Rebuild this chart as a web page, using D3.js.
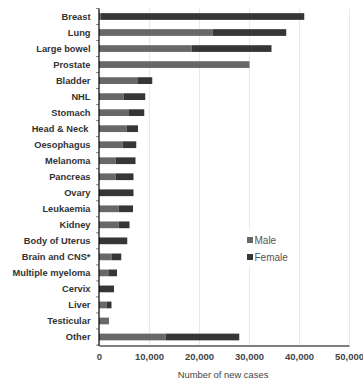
<!DOCTYPE html>
<html lang="en">
<head>
  <meta charset="utf-8">
  <title>New cancer cases by sex</title>
  <style>
    body {
      margin: 0;
      background: #fff;
    }

    text {
      font-family: "Liberation Sans", Arial, sans-serif;
    }

    .cat text {
      font-size: 9.3px;
      font-weight: bold;
      fill: #333;
    }

    .xlab {
      font-size: 9.5px;
      font-weight: bold;
      fill: #444;
    }

    .grid line {
      stroke: #e9e9e9;
      stroke-width: 1;
    }

    .legend text {
      font-size: 10px;
      fill: #555;
    }
  </style>
</head>
<body>

  <svg width="363" height="381"></svg>
  <script src="https://cdn.jsdelivr.net/npm/d3@7"></script>
  <script>

  // data
  var categories = ["Breast", "Lung", "Large bowel", "Prostate", "Bladder", "NHL",
    "Stomach", "Head & Neck", "Oesophagus", "Melanoma", "Pancreas", "Ovary",
    "Leukaemia", "Kidney", "Body of Uterus", "Brain and CNS*", "Multiple myeloma",
    "Cervix", "Liver", "Testicular", "Other"];

  var male = [300, 22700, 18500, 30100, 7800, 4900, 6000, 5500, 4700, 3300, 3300, 0,
    3900, 3900, 0, 2500, 2000, 0, 1500, 2000, 13300];

  var female = [40750, 14750, 16000, 0, 2850, 4350, 3050, 2300, 2750, 4000, 3600, 6900,
    2900, 2200, 5650, 1950, 1600, 3000, 1000, 0, 14750];

  var xTicks = [0, 10000, 20000, 30000, 40000, 50000];

  var seriesNames = ["Male", "Female"];
  var seriesColors = ["#686868", "#363636"];

  var svg = d3.select("svg");

  var x = d3.scaleLinear()
      .domain([0, 50000])
      .range([99, 349]);

  var y = d3.scaleBand()
      .domain(categories)
      .range([8.5, 345]);

  var fmt = d3.format(",");

  // gridlines
  svg.append("g")
      .attr("class", "grid")
    .selectAll("line")
    .data(xTicks.slice(1))
    .enter().append("line")
      .attr("x1", function(d) { return x(d) + 0.5; })
      .attr("x2", function(d) { return x(d) + 0.5; })
      .attr("y1", y.range()[0])
      .attr("y2", y.range()[1]);

  // stacked bars
  var rows = categories.map(function(c, i) {
    return { cat: c, m: male[i], f: female[i] };
  });

  var barH = y.bandwidth() * 0.42;

  var bars = svg.append("g").attr("class", "bars");

  bars.selectAll("rect.male")
    .data(rows)
    .enter().append("rect")
      .attr("class", "male")
      .attr("x", x(0))
      .attr("y", function(d) { return y(d.cat) + (y.bandwidth() - barH) / 2; })
      .attr("width", function(d) { return x(d.m) - x(0); })
      .attr("height", barH)
      .attr("fill", seriesColors[0]);

  bars.selectAll("rect.female")
    .data(rows)
    .enter().append("rect")
      .attr("class", "female")
      .attr("x", function(d) { return x(d.m); })
      .attr("y", function(d) { return y(d.cat) + (y.bandwidth() - barH) / 2; })
      .attr("width", function(d) { return x(d.m + d.f) - x(d.m); })
      .attr("height", barH)
      .attr("fill", seriesColors[1]);

  // y axis: line, ticks at band edges, labels
  var yAxis = svg.append("g").attr("class", "cat");

  var edges = categories.map(function(c) { return y(c); }).concat([y.range()[1]]);

  yAxis.selectAll("line.tk")
    .data(edges)
    .enter().append("line")
      .attr("class", "tk")
      .attr("x1", x(0) - 3)
      .attr("x2", x(0))
      .attr("y1", function(d) { return d; })
      .attr("y2", function(d) { return d; })
      .attr("stroke", "#888");

  yAxis.selectAll("text")
    .data(categories)
    .enter().append("text")
      .attr("x", function(d) { return x(0) - (d == "Head & Neck" ? 10.5 : 8.5); })
      .attr("y", function(d) { return y(d) + y.bandwidth() / 2; })
      .attr("dy", "0.35em")
      .attr("text-anchor", "end")
      .text(function(d) { return d; });

  yAxis.append("line")
      .attr("x1", x(0))
      .attr("x2", x(0))
      .attr("y1", y.range()[0])
      .attr("y2", y.range()[1] + 1)
      .attr("stroke", "#000")
      .attr("stroke-width", 1.2);

  // x axis
  var xAxis = svg.append("g")
      .attr("transform", "translate(0," + (y.range()[1] + 0.5) + ")")
      .call(d3.axisBottom(x).tickValues(xTicks).tickSize(0).tickPadding(8).tickFormat(fmt));

  xAxis.select(".domain")
      .attr("stroke", "#000")
      .attr("stroke-width", 1.2);

  xAxis.selectAll(".tick text")
      .attr("class", "xlab")
      .attr("font-family", null)
      .attr("font-size", null)
      .attr("fill", null);

  svg.append("text")
      .attr("x", (x(0) + x(50000)) / 2 - 1)
      .attr("y", 378)
      .attr("text-anchor", "middle")
      .style("font-size", "9.4px")
      .style("fill", "#444")
      .text("Number of new cases");

  // legend
  var legend = svg.append("g").attr("class", "legend");

  legend.append("rect")
      .attr("x", 244)
      .attr("y", 229)
      .attr("width", 52)
      .attr("height", 38)
      .attr("fill", "#fff");

  var item = legend.selectAll("g.item")
    .data(seriesNames)
    .enter().append("g")
      .attr("class", "item")
      .attr("transform", function(d, i) { return "translate(247," + (240 + i * 17) + ")"; });

  item.append("rect")
      .attr("x", 0)
      .attr("y", -3)
      .attr("width", 6)
      .attr("height", 6)
      .attr("fill", function(d, i) { return seriesColors[i]; });

  item.append("text")
      .attr("x", 7.5)
      .attr("y", 0)
      .attr("dy", "0.35em")
      .text(function(d) { return d; });

  </script>

</body>
</html>
